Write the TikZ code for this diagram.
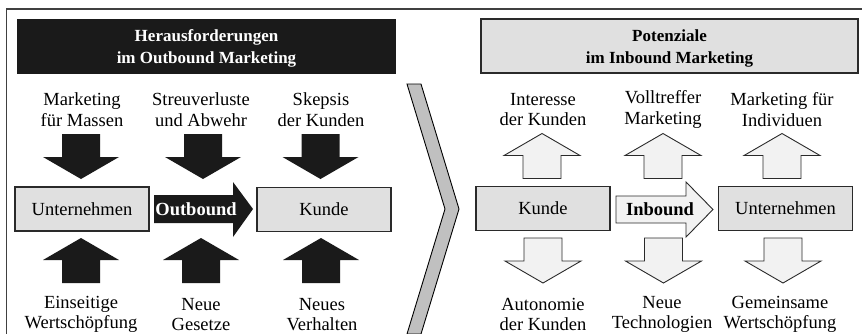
\documentclass[tikz,border=0pt]{standalone}
\usepackage{fontspec}
\setmainfont{Liberation Serif}
\definecolor{darkfill}{HTML}{1A1A1A}
\definecolor{boxgray}{HTML}{E0E0E0}
\definecolor{hollow}{HTML}{F2F2F2}
\definecolor{chevgray}{HTML}{C0C0C0}
\definecolor{framecol}{HTML}{404040}
\definecolor{edgecol}{HTML}{2A2A2A}
\begin{document}
\begin{tikzpicture}[x=1pt,y=-1pt,
  txt/.style={font=\fontsize{18.5}{20.5}\selectfont, align=center, inner sep=0pt},
  btxt/.style={font=\fontsize{18.5}{20}\selectfont, align=center, inner sep=0pt},
  titletxt/.style={font=\bfseries\fontsize{17}{22}\selectfont, align=center, inner sep=0pt},
  gbox/.style={draw=edgecol, line width=1.3pt, fill=boxgray, minimum width=134, minimum height=44, inner sep=0pt, font=\fontsize{18.5}{20.5}\selectfont},
  solidarrow/.style={fill=darkfill},
  hollowarrow/.style={fill=hollow, draw=edgecol, line width=0.9pt},
  pics/varrow/.style={code={\path[pic actions] (-19,0) -- (19,0) -- (19,23) -- (38,23) -- (0,45) -- (-38,23) -- (-19,23) -- cycle;}}
]
\useasboundingbox (0,0) rectangle (862,333);
% frame
\draw[framecol, line width=1.5pt] (6.5,345) -- (6.5,9) -- (875,9);

% ---------- left part ----------
\fill[darkfill] (17,19) rectangle (396,74);
\node[titletxt, text=white] (tl) at (206.5,48.5) {Herausforderungen\\im Outbound Marketing};

\node[txt] (t1) at (82,109.5) {Marketing\\für Massen};
\node[txt] (t2) at (201,109.5) {Streuverluste\\und Abwehr};
\node[txt] (t3) at (321,109.5) {Skepsis\\der Kunden};

\pic[solidarrow] at (81,134) {varrow};
\pic[solidarrow] at (203,134) {varrow};
\pic[solidarrow] at (320.5,134) {varrow};

\node[gbox] (lu) at (82,209) {Unternehmen};
\node[gbox] (lk) at (324,209.5) {Kunde};

\fill[darkfill] (154,195) -- (233,195) -- (233,182) -- (253,209) -- (233,237) -- (233,223) -- (154,223) -- cycle;
\node[font=\bfseries\fontsize{18.5}{20.5}\selectfont, text=white, inner sep=0pt] (ob) at (196,209) {Outbound};

\pic[solidarrow, yscale=-1] at (81,283) {varrow};
\pic[solidarrow, yscale=-1] at (201,283) {varrow};
\pic[solidarrow, yscale=-1] at (321,283) {varrow};

\node[btxt] (b1) at (81,314.5) {Einseitige\\Wertschöpfung};
\node[btxt] (b2) at (201,314.5) {Neue\\Gesetze};
\node[btxt] (b3) at (322,314.5) {Neues\\Verhalten};

% ---------- chevron ----------
\draw[fill=chevgray, draw=black, line width=0.9pt, line join=miter]
  (407,84) -- (421,84) -- (459,209) -- (421,334) -- (407,334) -- (445,209) -- cycle;

% ---------- right part ----------
\draw[fill=boxgray, draw=edgecol, line width=1.3pt] (481,19) rectangle (858,73);
\node[titletxt] (tr) at (669.5,48) {Potenziale\\im Inbound Marketing};

\node[txt] (r1) at (543,109.5) {Interesse\\der Kunden};
\node[txt] (r2) at (663,109.5) {Volltreffer\\Marketing};
\node[txt] (r3) at (782,109.5) {Marketing für\\Individuen};

\pic[hollowarrow, yscale=-1] at (542,178.5) {varrow};
\pic[hollowarrow, yscale=-1] at (663,178.5) {varrow};
\pic[hollowarrow, yscale=-1] at (782,178.5) {varrow};

\node[gbox] (rk) at (543,208.5) {Kunde};
\node[gbox] (ru) at (785.5,208.5) {Unternehmen};

\draw[fill=hollow, draw=edgecol, line width=0.9pt, line join=miter]
  (616,196) -- (686,196) -- (686,182) -- (713,209.5) -- (686,237) -- (686,223) -- (616,223) -- cycle;
\node[font=\bfseries\fontsize{18.5}{20.5}\selectfont, inner sep=0pt] (ib) at (660,209.5) {Inbound};

\pic[hollowarrow] at (543,238) {varrow};
\pic[hollowarrow] at (663.5,238) {varrow};
\pic[hollowarrow] at (783,238) {varrow};

\node[btxt] (s1) at (543,314.5) {Autonomie\\der Kunden};
\node[btxt] (s2) at (662,314.5) {Neue\\Technologien};
\node[btxt] (s3) at (780,314.5) {Gemeinsame\\Wertschöpfung};
\end{tikzpicture}
\end{document}
